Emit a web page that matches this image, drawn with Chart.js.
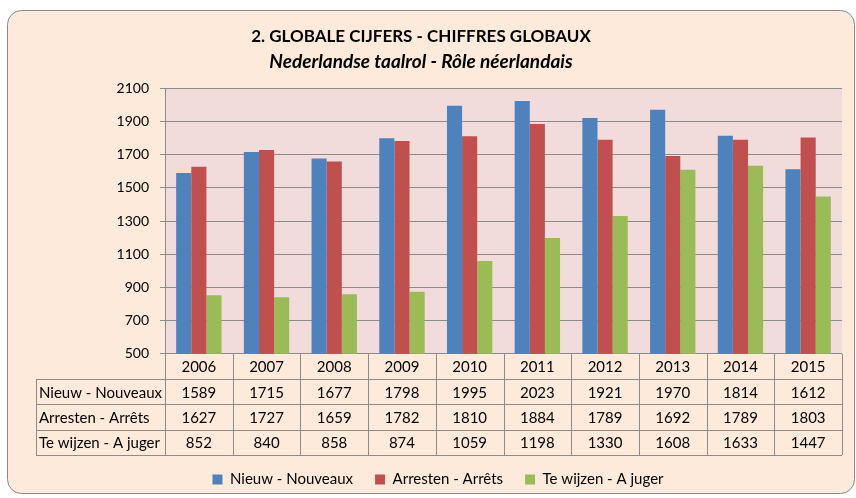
<!DOCTYPE html>
<html lang="nl">
<head>
<meta charset="utf-8">
<title>Globale cijfers - Chiffres globaux</title>
<script src="https://cdn.jsdelivr.net/npm/chart.js"></script>
<style>
  html, body { margin: 0; padding: 0; background: #fff; }
  #wrap { width: 856px; height: 498px; }
</style>
</head>
<body>
<div id="wrap"><canvas id="chart"></canvas></div>
<script>
// ---------------- data ----------------
const years = ['2006', '2007', '2008', '2009', '2010', '2011', '2012', '2013', '2014', '2015'];
const nieuw = [1589, 1715, 1677, 1798, 1995, 2023, 1921, 1970, 1814, 1612];
const arresten = [1627, 1727, 1659, 1782, 1810, 1884, 1789, 1692, 1789, 1803];
const teWijzen = [852, 840, 858, 874, 1059, 1198, 1330, 1608, 1633, 1447];
const seriesNames = ['Nieuw - Nouveaux', 'Arresten - Arrêts', 'Te wijzen - A juger'];
const yMin = 500, yMax = 2100, yStep = 200;
// ---------------------------------------

const FONT = 'Lato, "Noto Sans", sans-serif';
const colors = ['#4F81BD', '#C0504D', '#9BBB59'];
const PAGE_BG = '#FDEADA';
const PLOT_BG = '#F2DCDB';
const LINE = '#8C8C8C';
const ROW_H = 25.3;
const LABEL_LEFT = 36;

// rounded outer box + plot background
const background = {
  id: 'background',
  beforeDraw(chart) {
    const { ctx, chartArea: a } = chart;
    ctx.save();
    ctx.fillStyle = '#fff';
    ctx.fillRect(0, 0, chart.width, chart.height);
    ctx.beginPath();
    ctx.roundRect(7.5, 10.5, chart.width - 9, chart.height - 15, 14);
    ctx.fillStyle = PAGE_BG;
    ctx.fill();
    ctx.strokeStyle = '#8a8a8a';
    ctx.lineWidth = 1;
    ctx.stroke();
    ctx.fillStyle = PLOT_BG;
    ctx.fillRect(a.left, a.top, a.right - a.left, a.bottom - a.top);
    ctx.restore();
  }
};

// legend sits a bit right of centre, like the original
const legendShift = {
  id: 'legendShift',
  afterLayout(chart) {
    chart.legend.left += 17;
    chart.legend.right += 17;
  }
};

// data table under the plot
const dataTable = {
  id: 'dataTable',
  afterDraw(chart) {
    const { ctx, chartArea: a, scales: { x } } = chart;
    const top = a.bottom;
    const colW = (a.right - a.left) / years.length;
    const rows = [nieuw, arresten, teWijzen];
    ctx.save();
    ctx.strokeStyle = LINE;
    ctx.lineWidth = 1;
    ctx.beginPath();
    for (let r = 1; r <= 4; r++) {
      const y = Math.round(top + r * ROW_H) + 0.5;
      ctx.moveTo(LABEL_LEFT, y);
      ctx.lineTo(a.right, y);
    }
    for (let i = 0; i <= years.length; i++) {
      const xx = Math.round(a.left + i * colW) + 0.5;
      ctx.moveTo(xx, top);
      ctx.lineTo(xx, top + 4 * ROW_H);
    }
    ctx.moveTo(LABEL_LEFT + 0.5, top + ROW_H);
    ctx.lineTo(LABEL_LEFT + 0.5, top + 4 * ROW_H);
    ctx.stroke();

    ctx.fillStyle = '#000';
    ctx.font = '15px ' + FONT;
    ctx.textBaseline = 'middle';
    ctx.textAlign = 'center';
    years.forEach((yr, i) => {
      ctx.fillText(yr, x.getPixelForValue(i), top + ROW_H / 2 + 1);
    });
    rows.forEach((vals, r) => {
      const cy = top + (r + 1.5) * ROW_H + 1;
      ctx.textAlign = 'left';
      ctx.fillText(seriesNames[r], LABEL_LEFT + 3, cy);
      ctx.textAlign = 'center';
      vals.forEach((v, i) => ctx.fillText(String(v), x.getPixelForValue(i), cy));
    });
    ctx.restore();
  }
};

new Chart(document.getElementById('chart'), {
  type: 'bar',
  data: {
    labels: years,
    datasets: [nieuw, arresten, teWijzen].map((d, i) => ({
      label: seriesNames[i],
      data: d,
      backgroundColor: colors[i],
      borderWidth: 0,
      categoryPercentage: 0.67,
      barPercentage: 1
    }))
  },
  options: {
    responsive: true,
    maintainAspectRatio: false,
    animation: false,
    layout: { padding: { top: 16, right: 14, bottom: 1, left: 0 } },
    plugins: {
      title: {
        display: true,
        text: '2. GLOBALE CIJFERS - CHIFFRES GLOBAUX',
        color: '#000',
        font: { family: FONT, size: 17, weight: 'bold' },
        padding: { top: 10, bottom: 1 }
      },
      subtitle: {
        display: true,
        text: 'Nederlandse taalrol - Rôle néerlandais',
        color: '#000',
        font: { family: FONT, size: 19, weight: 'bold', style: 'italic' },
        padding: { top: 3, bottom: 15 }
      },
      legend: {
        position: 'bottom',
        labels: {
          color: '#000',
          boxWidth: 10,
          boxHeight: 10,
          padding: 22,
          font: { family: FONT, size: 15 }
        }
      },
      tooltip: { enabled: false }
    },
    scales: {
      x: {
        grid: { display: false },
        border: { display: false },
        ticks: { display: false },
        afterFit(scale) { scale.height = 4 * ROW_H - 5; }
      },
      y: {
        min: yMin,
        max: yMax,
        ticks: {
          stepSize: yStep,
          color: '#000',
          padding: 11,
          font: { family: FONT, size: 14 },
          callback: (v) => String(v)
        },
        grid: { color: LINE, tickLength: 5 },
        border: { color: LINE },
        afterFit(scale) { scale.width = 165; }
      }
    }
  },
  plugins: [background, legendShift, dataTable]
});
</script>
</body>
</html>
